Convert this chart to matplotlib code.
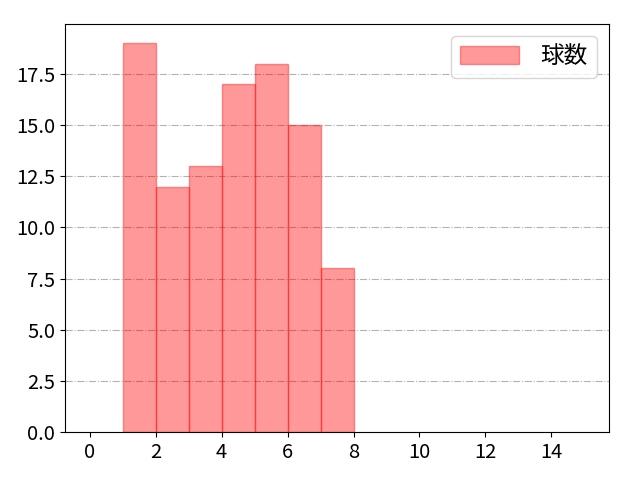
import matplotlib
matplotlib.use('Agg')
import matplotlib.pyplot as plt

plt.rcParams['font.family'] = ['Noto Sans CJK JP', 'DejaVu Sans']

# pitch count per inning
innings = [1, 2, 3, 4, 5, 6, 7]
pitches = [19, 12, 13, 17, 18, 15, 8]

fig = plt.figure(figsize=(6.4, 4.8), dpi=100)
ax = fig.add_axes([0.1016, 0.1, 0.85, 0.85])
ax.bar(innings, pitches, width=1.0, align='edge', color='red', alpha=0.4,
       edgecolor='red', linewidth=1.0, label='球数')
ax.set_xlim(-0.75, 15.75)
ax.set_ylim(0, 19.95)
ax.set_xticks(range(0, 16, 2))
ax.set_yticks([0, 2.5, 5, 7.5, 10, 12.5, 15, 17.5])
ax.set_yticklabels(['0.0', '2.5', '5.0', '7.5', '10.0', '12.5', '15.0', '17.5'])
ax.tick_params(labelsize=14.5)
ax.set_axisbelow(True)
ax.grid(axis='y', linestyle='-.', color='gray', alpha=0.6)
ax.legend(loc='upper right', fontsize=17, handlelength=2.5, handleheight=0.85,
          handletextpad=0.9)

plt.savefig('out.png')
